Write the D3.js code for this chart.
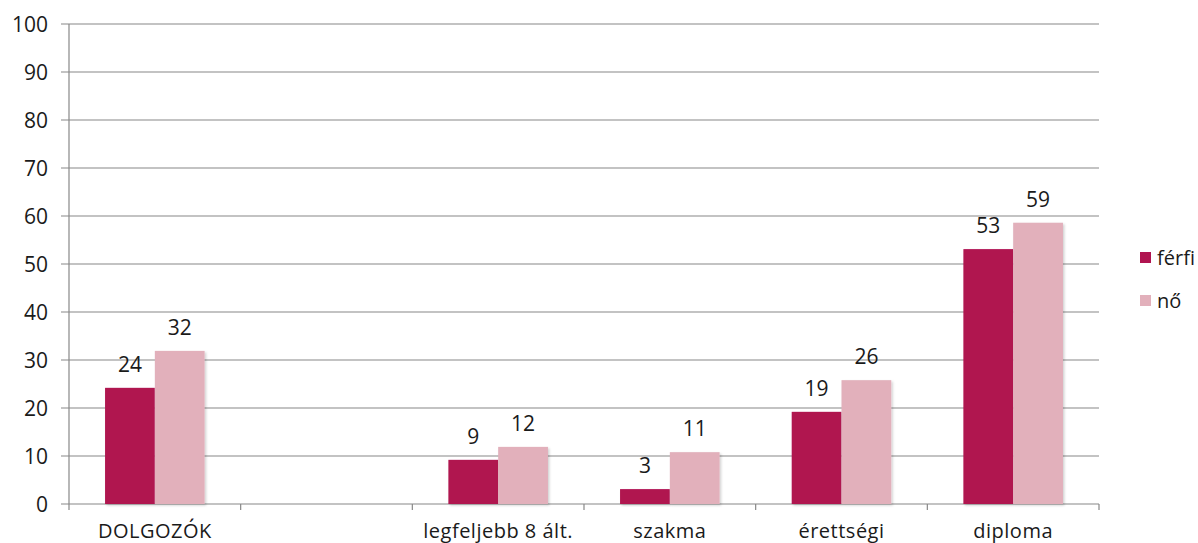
<!DOCTYPE html>
<html>
<head>
<meta charset="utf-8">
<script src="https://cdn.jsdelivr.net/npm/d3@7"></script>
<style>
  body { margin: 0; background: #fff; }
  text { font-family: "Open Sans", "DejaVu Sans", sans-serif; fill: #1a1a1a; }
</style>
</head>
<body>
<svg id="chart" width="1198" height="543"></svg>
<script>
// categories (second one is an empty spacer slot)
var categories = ['DOLGOZÓK', '', 'legfeljebb 8 ált.', 'szakma', 'érettségi', 'diploma'];
var ferfi = [24.2, null, 9.2, 3.1, 19.2, 53.1];
var no = [31.9, null, 11.9, 10.8, 25.8, 58.6];
var seriesNames = ['férfi', 'nő'];
var colors = ['#b01450', '#e2b0bb'];
var yTicks = [0, 10, 20, 30, 40, 50, 60, 70, 80, 90, 100];

var svg = d3.select('#chart');
var m = { left: 69, right: 1099, top: 24, bottom: 504 };

var x = d3.scaleBand().domain(d3.range(categories.length)).range([m.left, m.right]);
var y = d3.scaleLinear().domain([0, 100]).range([m.bottom, m.top]);
var barW = x.bandwidth() * 0.29;

var defs = svg.append('defs');
var f = defs.append('filter').attr('id', 'sh').attr('x', '-10%').attr('y', '-10%').attr('width', '130%').attr('height', '130%');
f.append('feDropShadow').attr('dx', 1.5).attr('dy', 1.5).attr('stdDeviation', 1.2)
  .attr('flood-color', '#000').attr('flood-opacity', 0.18);

// gridlines
svg.append('g').selectAll('line').data(yTicks).enter().append('line')
  .attr('x1', m.left - 8).attr('x2', m.right)
  .attr('y1', function(d) { return y(d); }).attr('y2', function(d) { return y(d); })
  .attr('stroke', '#888').attr('stroke-width', 1.2);

// y labels
svg.append('g').selectAll('text').data(yTicks).enter().append('text')
  .attr('x', 48).attr('y', function(d) { return y(d); }).attr('dy', '0.36em')
  .attr('text-anchor', 'end').style('font-size', '21px')
  .text(function(d) { return d; });

// axis lines
svg.append('line').attr('x1', m.left).attr('x2', m.left).attr('y1', m.top).attr('y2', m.bottom + 6)
  .attr('stroke', '#888').attr('stroke-width', 1.2);
var bounds = d3.range(1, categories.length + 1).map(function(i) {
  return i < categories.length ? x(i) : m.right;
});
svg.append('g').selectAll('line').data(bounds).enter().append('line')
  .attr('x1', function(d) { return d; }).attr('x2', function(d) { return d; })
  .attr('y1', m.bottom).attr('y2', m.bottom + 6)
  .attr('stroke', '#888').attr('stroke-width', 1.2);

// bars
[ferfi, no].forEach(function(vals, s) {
  var g = svg.append('g');
  vals.forEach(function(v, i) {
    if (v == null) return;
    var bx = x(i) + x.bandwidth() / 2 + (s === 0 ? -barW : 0);
    g.append('rect')
      .attr('x', bx).attr('width', barW)
      .attr('y', y(v)).attr('height', m.bottom - y(v))
      .attr('fill', colors[s]).attr('filter', 'url(#sh)');
    g.append('text')
      .attr('x', bx + barW / 2).attr('y', y(v) - 16)
      .attr('text-anchor', 'middle').style('font-size', '21px')
      .text(Math.round(v));
  });
});

// category labels
svg.append('g').selectAll('text').data(categories).enter().append('text')
  .attr('x', function(d, i) { return x(i) + x.bandwidth() / 2; })
  .attr('y', 538).attr('text-anchor', 'middle')
  .style('font-size', '20px').style('letter-spacing', '0.5px')
  .text(function(d) { return d; });

// legend
var lg = svg.append('g');
seriesNames.forEach(function(n, i) {
  lg.append('rect').attr('x', 1140).attr('y', 252 + i * 43).attr('width', 11).attr('height', 11)
    .attr('fill', colors[i]);
  lg.append('text').attr('x', 1157).attr('y', 258 + i * 43).attr('dy', '0.36em')
    .style('font-size', '20px').text(n);
});
</script>
</body>
</html>
